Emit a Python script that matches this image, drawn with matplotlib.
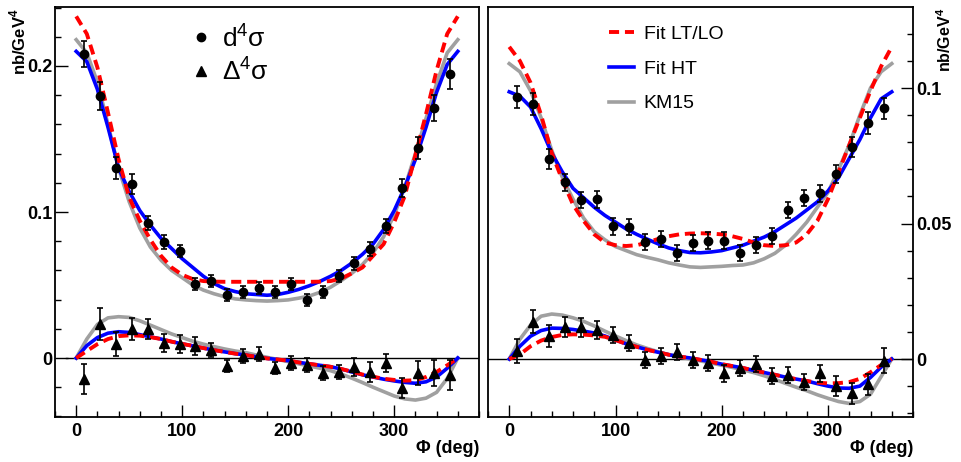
import numpy as np
import matplotlib
matplotlib.use("Agg")
import matplotlib.pyplot as plt
from matplotlib.lines import Line2D
from matplotlib.ticker import MultipleLocator, FuncFormatter

plt.rcParams['font.family'] = ['Liberation Sans', 'DejaVu Sans']
plt.rcParams['mathtext.fontset'] = 'custom'
plt.rcParams['mathtext.rm'] = 'Liberation Sans'
plt.rcParams['mathtext.bf'] = 'Liberation Sans:bold'

# phi bin centres of the data (deg)
phi_bins = [7.5, 22.5, 37.5, 52.5, 67.5, 82.5, 97.5, 112.5, 127.5, 142.5, 157.5, 172.5,
            187.5, 202.5, 217.5, 232.5, 247.5, 262.5, 277.5, 292.5, 307.5, 322.5, 337.5, 352.5]
# phi grid of the model curves (deg)
phi_curve = np.arange(0, 370, 10)

# ---- left panel: data ----
left_xs = [0.2082, 0.1795, 0.130, 0.119, 0.0925, 0.0795, 0.0733, 0.0507, 0.0527, 0.0432, 0.0452, 0.048,
           0.0452, 0.0507, 0.0397, 0.0452, 0.0562, 0.065, 0.0747, 0.0904, 0.1164, 0.1438, 0.171, 0.1945]
left_xs_err = [0.009, 0.0095, 0.0075, 0.007, 0.005, 0.0045, 0.004, 0.004, 0.004, 0.004, 0.004, 0.004,
               0.004, 0.004, 0.004, 0.004, 0.004, 0.0045, 0.005, 0.005, 0.006, 0.0077, 0.009, 0.010]
left_asym = [-0.0144, 0.0233, 0.0096, 0.0199, 0.0199, 0.0103, 0.0096, 0.0082, 0.0055, -0.0055, 0.0014, 0.0027,
             -0.0068, -0.0034, -0.0048, -0.0103, -0.0096, -0.0062, -0.0096, -0.0034, -0.0205, -0.0103, -0.0103, -0.0116]
left_asym_err = [0.0105, 0.011, 0.0083, 0.0077, 0.007, 0.006, 0.006, 0.006, 0.005, 0.004, 0.005, 0.005,
                 0.004, 0.005, 0.005, 0.005, 0.005, 0.006, 0.007, 0.006, 0.007, 0.0085, 0.009, 0.0105]

# ---- left panel: curves ----
left_xs_lt = [0.234, 0.222, 0.199, 0.168, 0.136, 0.110, 0.094, 0.081, 0.070, 0.062, 0.057, 0.054, 0.0527,
              0.0523, 0.0522, 0.0522, 0.0522, 0.0522, 0.0522, 0.0522, 0.0522, 0.0522, 0.0522, 0.0523,
              0.0527, 0.0545, 0.058, 0.062, 0.070, 0.078, 0.093, 0.111, 0.139, 0.167, 0.197, 0.222, 0.234]
left_xs_ht = [0.210, 0.203, 0.184, 0.158, 0.130, 0.114, 0.101, 0.091, 0.082, 0.075, 0.068, 0.062, 0.056,
              0.051, 0.0475, 0.0455, 0.044, 0.0435, 0.043, 0.0435, 0.045, 0.047, 0.0495, 0.0525,
              0.056, 0.060, 0.065, 0.071, 0.078, 0.088, 0.101, 0.117, 0.136, 0.158, 0.182, 0.201, 0.210]
left_xs_km = [0.218, 0.209, 0.189, 0.160, 0.130, 0.107, 0.089, 0.076, 0.067, 0.060, 0.055, 0.050, 0.0465,
              0.044, 0.042, 0.0405, 0.0398, 0.0393, 0.039, 0.0393, 0.0398, 0.041, 0.0425, 0.045,
              0.0485, 0.053, 0.058, 0.064, 0.072, 0.083, 0.098, 0.117, 0.140, 0.164, 0.188, 0.209, 0.218]
left_asym_lt = [0.0, 0.0048, 0.0095, 0.0130, 0.0150, 0.0155, 0.0153, 0.0143, 0.0130, 0.0112, 0.0097, 0.0083,
                0.0068, 0.0054, 0.0042, 0.0030, 0.0020, 0.0008, -0.0003, -0.0010, -0.0018, -0.0030, -0.0040,
                -0.0050, -0.0060, -0.0075, -0.0093, -0.0113, -0.0128, -0.0142, -0.0150, -0.0155, -0.0152,
                -0.0130, -0.0095, -0.0050, 0.0]
left_asym_ht = [0.0, 0.0085, 0.0140, 0.0170, 0.0180, 0.0175, 0.0160, 0.0145, 0.0130, 0.0112, 0.0097, 0.0083,
                0.0068, 0.0054, 0.0042, 0.0030, 0.0020, 0.0008, -0.0003, -0.0010, -0.0018, -0.0030, -0.0040,
                -0.0050, -0.0060, -0.0075, -0.0095, -0.0115, -0.0130, -0.0145, -0.0157, -0.0167, -0.0173,
                -0.0163, -0.0130, -0.0070, 0.0]
left_asym_km = [0.0, 0.0130, 0.0230, 0.0275, 0.0283, 0.0278, 0.0255, 0.0225, 0.0195, 0.0165, 0.0140, 0.0115,
                0.0095, 0.0078, 0.0062, 0.0048, 0.0037, 0.0020, 0.0005, -0.0010, -0.0025, -0.0040, -0.0055,
                -0.0070, -0.0087, -0.0110, -0.0138, -0.0168, -0.0200, -0.0230, -0.0260, -0.0280, -0.0288,
                -0.0275, -0.0235, -0.0140, 0.0]

# ---- right panel: data ----
right_xs = [0.0968, 0.094, 0.0738, 0.0652, 0.0588, 0.0589, 0.0489, 0.0488, 0.0433, 0.0442, 0.0392, 0.0427,
            0.0437, 0.0437, 0.0392, 0.0421, 0.0454, 0.055, 0.0594, 0.0611, 0.0683, 0.0781, 0.087, 0.0925]
right_xs_err = [0.0041, 0.004, 0.0037, 0.0032, 0.003, 0.003, 0.003, 0.003, 0.003, 0.003, 0.003, 0.003,
                0.003, 0.003, 0.003, 0.003, 0.003, 0.003, 0.003, 0.003, 0.0033, 0.0037, 0.004, 0.004]
right_asym = [0.003, 0.0138, 0.0085, 0.0117, 0.0117, 0.0107, 0.0089, 0.006, -0.0004, 0.0011, 0.0025, -0.0004,
              -0.0014, -0.0053, -0.0034, -0.0018, -0.0063, -0.0059, -0.0084, -0.0053, -0.0098, -0.0127, -0.0094, -0.0006]
right_asym_err = [0.0045, 0.0043, 0.004, 0.0037, 0.0035, 0.0035, 0.003, 0.003, 0.003, 0.003, 0.003, 0.003,
                  0.003, 0.003, 0.003, 0.003, 0.003, 0.003, 0.003, 0.003, 0.0037, 0.004, 0.004, 0.0045]

# ---- right panel: curves ----
right_xs_lt = [0.1152, 0.110, 0.102, 0.090, 0.076, 0.066, 0.057, 0.051, 0.046, 0.043, 0.042, 0.0417, 0.042,
               0.043, 0.0443, 0.0453, 0.046, 0.0463, 0.0464, 0.0463, 0.046, 0.0453, 0.0443, 0.043,
               0.042, 0.0417, 0.042, 0.043, 0.046, 0.051, 0.059, 0.069, 0.079, 0.089, 0.099, 0.108, 0.1152]
right_xs_ht = [0.0986, 0.097, 0.093, 0.085, 0.076, 0.069, 0.063, 0.0595, 0.056, 0.053, 0.0505, 0.048, 0.046,
               0.0442, 0.0425, 0.041, 0.040, 0.0393, 0.0392, 0.0395, 0.040, 0.041, 0.042, 0.0435,
               0.045, 0.047, 0.0495, 0.052, 0.055, 0.058, 0.062, 0.067, 0.074, 0.081, 0.089, 0.096, 0.0986]
right_xs_km = [0.109, 0.106, 0.099, 0.089, 0.077, 0.067, 0.059, 0.052, 0.047, 0.044, 0.0415, 0.040, 0.0385,
               0.0375, 0.0366, 0.0355, 0.0347, 0.034, 0.0338, 0.034, 0.0342, 0.0345, 0.0347, 0.0355,
               0.037, 0.039, 0.042, 0.046, 0.0505, 0.056, 0.0615, 0.070, 0.079, 0.090, 0.100, 0.106, 0.109]
right_asym_lt = [0.0, 0.0017, 0.0047, 0.0068, 0.0081, 0.0089, 0.0091, 0.0090, 0.0087, 0.0082, 0.0070, 0.0056,
                 0.0045, 0.0034, 0.0025, 0.0016, 0.0009, 0.0004, -0.0003, -0.0010, -0.0019, -0.0026, -0.0033,
                 -0.0042, -0.0050, -0.0058, -0.0067, -0.0074, -0.0081, -0.0087, -0.0090, -0.0089, -0.0085,
                 -0.0073, -0.0049, -0.0022, 0.0]
right_asym_ht = [0.0, 0.0047, 0.0084, 0.0105, 0.0114, 0.0113, 0.0109, 0.0103, 0.0096, 0.0085, 0.0070, 0.0056,
                 0.0045, 0.0034, 0.0025, 0.0016, 0.0009, 0.0004, -0.0003, -0.0010, -0.0019, -0.0026, -0.0033,
                 -0.0042, -0.0050, -0.0058, -0.0067, -0.0074, -0.0081, -0.0091, -0.0100, -0.0107, -0.0108,
                 -0.0100, -0.0068, -0.0030, 0.0]
right_asym_km = [0.0, 0.0073, 0.0125, 0.0158, 0.0166, 0.0162, 0.0152, 0.0139, 0.0122, 0.0103, 0.0085, 0.0068,
                 0.0052, 0.0039, 0.0027, 0.0016, 0.0008, 0.0000, -0.0007, -0.0015, -0.0023, -0.0031, -0.0040,
                 -0.0050, -0.0062, -0.0075, -0.0090, -0.0104, -0.0117, -0.0132, -0.0145, -0.0157, -0.0164,
                 -0.0157, -0.0130, -0.0065, 0.0]

RED = '#ff0000'
BLUE = '#0000ff'
GREY = '#a0a0a0'


def zero_fmt(v, pos):
    return '0' if abs(v) < 1e-9 else f'{v:g}'


def draw_panel(ax, xs, xs_err, asym, asym_err, curves_xs, curves_asym, ylim, major, minor, zero_from):
    ax.set_xlim(-20, 380)
    ax.set_ylim(*ylim)
    ax.plot([zero_from, 380], [0, 0], color='black', lw=1.0, zorder=1)

    for lt, ht, km in (curves_xs, curves_asym):
        ax.plot(phi_curve, km, color=GREY, lw=2.6, zorder=2)
        ax.plot(phi_curve, ht, color=BLUE, lw=2.6, zorder=3)
        ax.plot(phi_curve, lt, color=RED, lw=2.8, dashes=(2.6, 1.5), zorder=4)

    ax.errorbar(phi_bins, xs, yerr=xs_err, fmt='o', color='black', ms=6, elinewidth=1.2,
                capsize=2, capthick=1.2, zorder=5)
    ax.errorbar(phi_bins, asym, yerr=asym_err, fmt='^', color='black', ms=6.5, elinewidth=1.2,
                capsize=2, capthick=1.2, zorder=5)

    ax.xaxis.set_major_locator(MultipleLocator(100))
    ax.xaxis.set_minor_locator(MultipleLocator(20))
    ax.yaxis.set_major_locator(MultipleLocator(major))
    ax.yaxis.set_minor_locator(MultipleLocator(minor))
    ax.yaxis.set_major_formatter(FuncFormatter(zero_fmt))
    ax.tick_params(which='both', direction='in', width=1.0)
    ax.tick_params(which='major', length=9, labelsize=13)
    ax.tick_params(axis='x', which='major', pad=4)
    ax.tick_params(axis='y', which='major', pad=2)
    ax.tick_params(which='minor', length=4.5)
    for sp in ax.spines.values():
        sp.set_linewidth(1.3)
    ax.text(1.0, -0.076, 'Φ (deg)', transform=ax.transAxes, ha='right', va='center',
            fontsize=13, fontweight='bold')


fig = plt.figure(figsize=(9.61, 4.62), dpi=100)
axl = fig.add_axes([55 / 961, 1 - 417 / 462, 424 / 961, 410 / 462])
axr = fig.add_axes([488 / 961, 1 - 417 / 462, 425 / 961, 410 / 462])

draw_panel(axl, left_xs, left_xs_err, left_asym, left_asym_err,
           (left_xs_lt, left_xs_ht, left_xs_km), (left_asym_lt, left_asym_ht, left_asym_km),
           (-0.0404, 0.2404), 0.1, 0.02, -10)
axl.text(-0.088, 0.998, r'nb/GeV$^{\mathbf{4}}$', transform=axl.transAxes, rotation=90,
         ha='center', va='top', fontsize=12, fontweight='bold')

draw_panel(axr, right_xs, right_xs_err, right_asym, right_asym_err,
           (right_xs_lt, right_xs_ht, right_xs_km), (right_asym_lt, right_asym_ht, right_asym_km),
           (-0.0214, 0.1299), 0.05, 0.01, -20)
axr.yaxis.tick_right()
axr.tick_params(which='both', direction='in', right=True, left=False)
axr.text(1.075, 0.998, r'nb/GeV$^{\mathbf{4}}$', transform=axr.transAxes, rotation=90,
         ha='center', va='top', fontsize=11.5, fontweight='bold')

for ax in (axl, axr):
    for lab in ax.get_xticklabels() + ax.get_yticklabels():
        lab.set_fontweight('bold')

# legends
data_handles = [Line2D([], [], ls='none', marker='o', color='black', ms=6),
                Line2D([], [], ls='none', marker='^', color='black', ms=6.5)]
axl.legend(data_handles, [r'd$^{4}$σ', r'Δ$^{4}$σ'], loc='upper left', bbox_to_anchor=(0.258, 1.017),
           frameon=False, fontsize=19, handlelength=1.0, handletextpad=0.3, labelspacing=0.2)

fit_handles = [Line2D([], [], color=RED, lw=2.8, dashes=(2.6, 1.5)),
               Line2D([], [], color=BLUE, lw=2.6),
               Line2D([], [], color=GREY, lw=2.6)]
axr.legend(fit_handles, ['Fit LT/LO', 'Fit HT', 'KM15'], loc='upper left', bbox_to_anchor=(0.243, 0.998),
           frameon=False, fontsize=14, handlelength=1.3, handletextpad=0.5, labelspacing=0.88)

fig.savefig('out.png', dpi=100)
